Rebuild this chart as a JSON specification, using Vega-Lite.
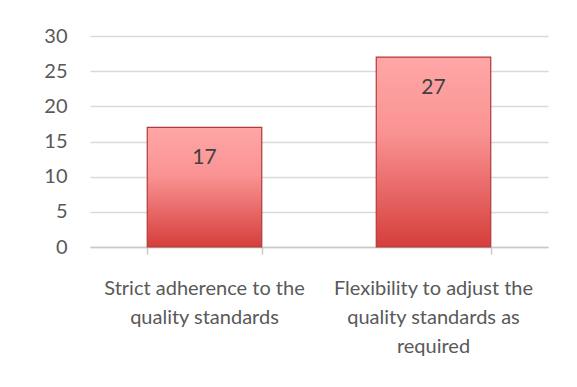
{
  "$schema": "https://vega.github.io/schema/vega-lite/v6.json",
  "width": 458,
  "height": 211,
  "autosize": {"type": "none"},
  "padding": {"left": 90, "top": 36, "right": 29, "bottom": 140},
  "background": "white",
  "data": {"values": [
    {"category": "Strict adherence to the quality standards", "count": 17},
    {"category": "Flexibility to adjust the quality standards as required", "count": 27}
  ]},
  "encoding": {
    "y": {"field": "count", "type": "quantitative",
      "scale": {"domain": [0, 30]},
      "axis": {"title": null, "values": [0, 5, 10, 15, 20, 25, 30], "domain": false, "ticks": false,
        "gridColor": "#D9D9D9", "gridWidth": 1.5, "labelFont": "Lato", "labelFontSize": 20,
        "labelColor": "#595959", "labelPadding": 23}
    }
  },
  "layer": [
    {"mark": {"type": "bar", "stroke": "#B03A3A", "strokeWidth": 1.2,
      "color": {"gradient": "linear", "x1": 0, "y1": 0, "x2": 0, "y2": 1,
        "stops": [{"offset": 0, "color": "#FFA6A6"}, {"offset": 0.4, "color": "#FA9393"}, {"offset": 1, "color": "#D53E3B"}]}},
      "encoding": {
        "x": {"field": "category", "type": "nominal", "sort": null,
          "scale": {"paddingInner": 0.5, "paddingOuter": 0.25},
          "axis": {"orient": "bottom", "title": null, "labelAngle": 0, "grid": false, "domain": false, "ticks": false,
            "labelFont": "Lato", "labelFontSize": 20, "labelColor": "#595959", "labelPadding": 31,
            "labelLineHeight": 29, "labelBaseline": "top", "labelLimit": 300,
            "labelExpr": "datum.value == 'Strict adherence to the quality standards' ? ['Strict adherence to the', 'quality standards'] : ['Flexibility to adjust the', 'quality standards as', 'required']"}
        }
      }
    },
    {"mark": {"type": "text", "baseline": "top", "dy": 20, "font": "Lato", "fontSize": 21, "color": "#404040"},
      "encoding": {
        "x": {"field": "category", "type": "nominal", "sort": null,
          "axis": {"orient": "bottom", "title": null, "labels": false, "grid": false, "domainColor": "#C8C8C8", "domainWidth": 1.5,
            "tickColor": "#C8C8C8", "tickWidth": 1.5, "tickSize": 7, "tickBand": "extent"}
        },
        "text": {"field": "count", "type": "quantitative"}
      }
    }
  ],
  "resolve": {"axis": {"x": "independent"}},
  "config": {"view": {"stroke": null}}
}
